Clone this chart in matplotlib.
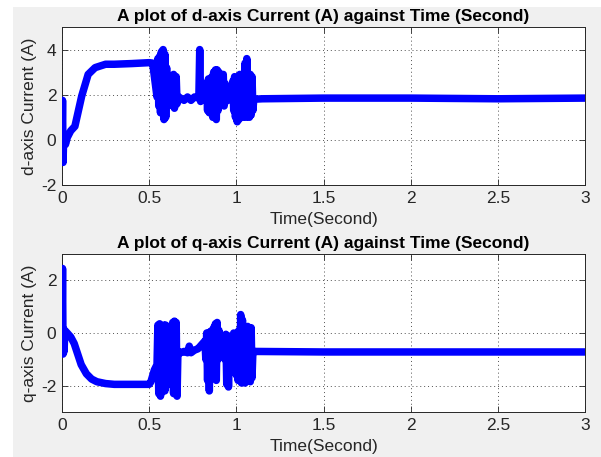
import matplotlib
matplotlib.use("Agg")
import matplotlib.pyplot as plt
from matplotlib.patches import Rectangle

plt.rcParams['font.family'] = ['Liberation Sans', 'DejaVu Sans']
plt.rcParams['axes.unicode_minus'] = False

# ---- data ----
t_d = [0.0, 0.003, 0.006, 0.010, 0.020, 0.030, 0.050, 0.074, 0.113, 0.150, 0.190, 0.250,
       0.300, 0.400, 0.500, 0.520, 0.535, 0.545,
       0.550, 0.555, 0.560, 0.565, 0.570, 0.575, 0.580, 0.585, 0.590, 0.595, 0.600,
       0.605, 0.610, 0.620, 0.630, 0.635, 0.640, 0.645, 0.655, 0.660, 0.670,
       0.700, 0.720, 0.740, 0.760, 0.785, 0.790, 0.795, 0.800, 0.820,
       0.830, 0.835, 0.840, 0.845, 0.850, 0.855, 0.860, 0.865, 0.870, 0.875,
       0.880, 0.885, 0.890, 0.895, 0.900, 0.905, 0.910, 0.920, 0.925, 0.930,
       0.935, 0.940, 0.960, 0.980, 0.985, 0.990, 0.995, 1.000, 1.005, 1.010,
       1.015, 1.020, 1.025, 1.030, 1.035, 1.040, 1.045, 1.050, 1.055, 1.060,
       1.065, 1.070, 1.075, 1.080, 1.085, 1.090, 1.095, 1.100,
       1.150, 1.500, 2.000, 2.500, 3.000]
i_d = [0.0, 1.75, -1.0, 0.2, -0.2, 0.1, 0.4, 0.6, 1.94, 2.9, 3.2, 3.35,
       3.35, 3.38, 3.42, 3.40, 2.5, 1.9,
       3.6, 1.5, 3.7, 1.2, 3.9, 1.6, 4.0, 0.9, 3.8, 1.0, 3.2,
       1.6, 2.2, 1.8, 2.8, 1.5, 2.9, 1.4, 2.8, 1.6, 1.9,
       1.75, 1.9, 1.75, 1.9, 1.85, 4.0, 1.7, 1.9, 1.8,
       2.5, 1.3, 2.7, 1.2, 2.6, 1.3, 2.8, 1.0, 3.0, 1.1,
       3.1, 0.9, 3.1, 1.3, 3.0, 1.5, 2.2, 1.8, 2.9, 1.5,
       2.5, 1.7, 1.8, 2.6, 1.3, 2.8, 1.0, 2.7, 0.8, 2.5,
       0.9, 2.9, 1.1, 2.6, 1.0, 2.5, 1.2, 3.4, 1.0, 3.6,
       1.2, 2.6, 1.0, 2.9, 1.1, 2.8, 1.3, 1.8,
       1.82, 1.85, 1.85, 1.82, 1.85]

t_q = [0.0, 0.003, 0.006, 0.009, 0.012, 0.016, 0.030, 0.050, 0.070, 0.090, 0.110, 0.140,
       0.170, 0.200, 0.250, 0.300, 0.400, 0.500, 0.510, 0.530, 0.545,
       0.550, 0.555, 0.560, 0.565, 0.570, 0.575, 0.585, 0.590, 0.595, 0.600,
       0.605, 0.615, 0.630, 0.635, 0.640, 0.645, 0.650, 0.655, 0.660, 0.665,
       0.680, 0.700, 0.720, 0.730, 0.740, 0.760, 0.780, 0.800, 0.820, 0.825,
       0.830, 0.835, 0.840, 0.845, 0.850, 0.855, 0.860, 0.865, 0.870, 0.875,
       0.880, 0.885, 0.890, 0.895, 0.900, 0.905, 0.920, 0.930, 0.935, 0.940,
       0.945, 0.950, 0.955, 0.960, 0.965, 0.980, 0.985, 0.990, 0.995, 1.000,
       1.005, 1.010, 1.015, 1.020, 1.025, 1.030, 1.035, 1.040, 1.045, 1.050,
       1.055, 1.060, 1.065, 1.070, 1.075, 1.080, 1.085, 1.090, 1.095, 1.100,
       1.500, 2.000, 2.500, 3.000]
i_q = [0.0, 2.45, -0.8, 0.15, -0.7, 0.1, 0.0, -0.15, -0.4, -0.8, -1.2, -1.55,
       -1.75, -1.85, -1.92, -1.95, -1.95, -1.95, -1.85, -1.4, -1.2,
       0.3, -2.3, 0.35, -2.4, -0.5, -2.0, 0.3, -2.2, 0.3, -2.0,
       -0.7, -0.75, -1.0, 0.4, -2.3, 0.45, -2.2, 0.4, -2.4, -0.7,
       -0.75, -0.7, -0.75, -0.5, -0.75, -0.65, -0.6, -0.45, -0.3, -1.0,
       0.0, -1.8, 0.0, -2.2, 0.05, -1.7, 0.1, -0.9, 0.2, -1.5,
       0.35, -1.8, 0.4, -1.0, 0.1, -0.6, -0.8, -0.1, -1.0, -0.05,
       -1.95, -0.1, -2.05, -0.2, -0.7, -0.8, 0.0, -1.5, -0.1, -1.6,
       0.0, -1.8, 0.1, -1.7, 0.7, -1.9, 0.5, -1.8, 0.1, -1.9,
       0.2, -1.7, 0.25, -1.8, 0.2, -1.85, 0.2, -1.7, -0.7, -0.7,
       -0.72, -0.72, -0.72, -0.72]

x_ticks = [0, 0.5, 1, 1.5, 2, 2.5, 3]
x_ticklabels = ['0', '0.5', '1', '1.5', '2', '2.5', '3']
d_yticks = [-2, 0, 2, 4]
q_yticks = [-2, 0, 2]

W, H = 601, 457
fig = plt.figure(figsize=(W / 100, H / 100), dpi=100, facecolor='white')
fig.patches.append(Rectangle((13 / W, 0), 1 - 13 / W, 1 - 7 / H,
                             transform=fig.transFigure, facecolor='#f0f0f0',
                             edgecolor='none', zorder=-10))

ax1 = fig.add_axes([62 / W, 1 - 185 / H, (585 - 62) / W, (185 - 27) / H])
ax2 = fig.add_axes([62 / W, 1 - 412 / H, (585 - 62) / W, (412 - 254) / H])

blue = '#0000ff'
specs = [
    (ax1, t_d, i_d, (-2, 5), d_yticks, 'd-axis Current (A)',
     'A plot of d-axis Current (A) against Time (Second)'),
    (ax2, t_q, i_q, (-3, 3), q_yticks, 'q-axis Current (A)',
     'A plot of q-axis Current (A) against Time (Second)'),
]
for ax, t, v, ylim, yt, ylab, title in specs:
    ax.set_facecolor('white')
    ax.plot(t, v, color=blue, lw=5.4, solid_capstyle='round',
            solid_joinstyle='round', zorder=3)
    ax.set_xlim(0, 3)
    ax.set_ylim(*ylim)
    ax.set_xticks(x_ticks)
    ax.set_xticklabels(x_ticklabels)
    ax.set_yticks(yt)
    ax.tick_params(direction='in', length=4, width=0.6, colors='#262626',
                   labelsize=12.5, top=True, right=True, pad=4)
    ax.tick_params(axis='both', labelcolor='#262626')
    ax.grid(True, color='#505050', linestyle=(0, (1, 3)), linewidth=0.7, zorder=1)
    for s in ax.spines.values():
        s.set_color('#262626')
        s.set_linewidth(0.7)
    ax.set_xlabel('Time(Second)', fontsize=12.5, color='#262626', labelpad=4.5)
    ax.set_ylabel(ylab, fontsize=12.5, color='#262626', labelpad=3)
    ax.set_title(title, fontsize=12.5, fontweight='bold', color='black', pad=4)

fig.savefig('out.png', dpi=100, facecolor=fig.get_facecolor())
